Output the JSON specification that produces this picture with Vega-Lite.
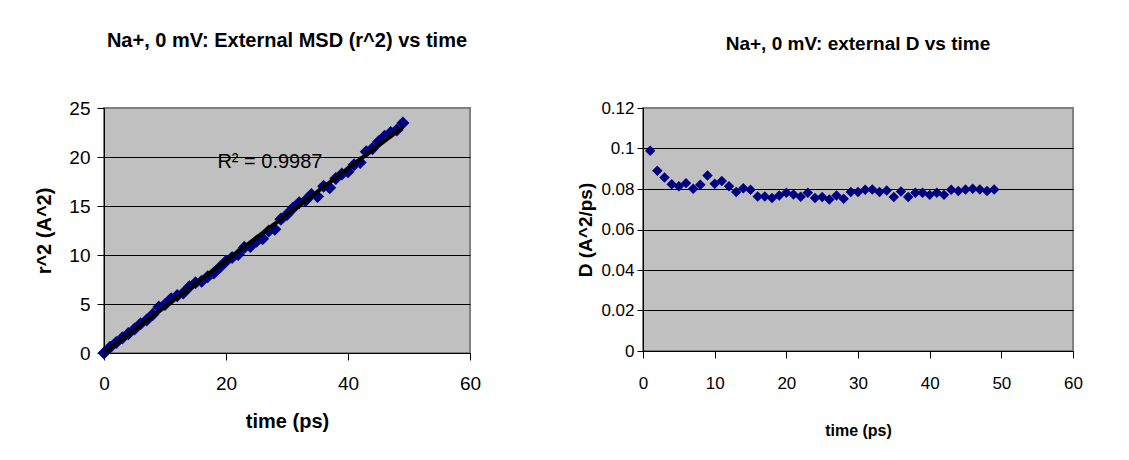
{
  "$schema": "https://vega.github.io/schema/vega-lite/v6.json",
  "background": "white",
  "padding": {"left": 33, "top": 30, "right": 5, "bottom": 5},
  "spacing": 93,
  "config": {
    "font": "Liberation Sans",
    "view": {"fill": "#c0c0c0", "stroke": "#808080", "strokeWidth": 2},
    "axis": {"domainColor": "black", "tickColor": "black", "labelColor": "black", "titleColor": "black", "labelFlush": false, "titleFontWeight": "bold", "domainWidth": 1, "tickWidth": 1}
  },
  "datasets": {
    "msd": [
      {"t": 0, "r2": 0}, {"t": 1, "r2": 0.593}, {"t": 2, "r2": 1.068}, {"t": 3, "r2": 1.543}, {"t": 4, "r2": 1.978},
      {"t": 5, "r2": 2.442}, {"t": 6, "r2": 2.985}, {"t": 7, "r2": 3.364}, {"t": 8, "r2": 3.941}, {"t": 9, "r2": 4.682},
      {"t": 10, "r2": 4.956}, {"t": 11, "r2": 5.537}, {"t": 12, "r2": 5.854}, {"t": 13, "r2": 6.123}, {"t": 14, "r2": 6.754},
      {"t": 15, "r2": 7.164}, {"t": 16, "r2": 7.325}, {"t": 17, "r2": 7.783}, {"t": 18, "r2": 8.154}, {"t": 19, "r2": 8.755},
      {"t": 20, "r2": 9.372}, {"t": 21, "r2": 9.74}, {"t": 22, "r2": 10.058}, {"t": 23, "r2": 10.778}, {"t": 24, "r2": 10.872},
      {"t": 25, "r2": 11.4}, {"t": 26, "r2": 11.669}, {"t": 27, "r2": 12.442}, {"t": 28, "r2": 12.634}, {"t": 29, "r2": 13.659},
      {"t": 30, "r2": 14.13}, {"t": 31, "r2": 14.806}, {"t": 32, "r2": 15.322}, {"t": 33, "r2": 15.543}, {"t": 34, "r2": 16.177},
      {"t": 35, "r2": 15.96}, {"t": 36, "r2": 17.021}, {"t": 37, "r2": 16.872}, {"t": 38, "r2": 17.807}, {"t": 39, "r2": 18.275},
      {"t": 40, "r2": 18.504}, {"t": 41, "r2": 19.212}, {"t": 42, "r2": 19.429}, {"t": 43, "r2": 20.537}, {"t": 44, "r2": 20.856},
      {"t": 45, "r2": 21.546}, {"t": 46, "r2": 22.108}, {"t": 47, "r2": 22.504}, {"t": 48, "r2": 22.752}, {"t": 49, "r2": 23.461}
    ],
    "diff": [
      {"t": 1, "D": 0.0989}, {"t": 2, "D": 0.089}, {"t": 3, "D": 0.0857}, {"t": 4, "D": 0.0824}, {"t": 5, "D": 0.0814},
      {"t": 6, "D": 0.0829}, {"t": 7, "D": 0.0801}, {"t": 8, "D": 0.0821}, {"t": 9, "D": 0.0867}, {"t": 10, "D": 0.0826},
      {"t": 11, "D": 0.0839}, {"t": 12, "D": 0.0813}, {"t": 13, "D": 0.0785}, {"t": 14, "D": 0.0804}, {"t": 15, "D": 0.0796},
      {"t": 16, "D": 0.0763}, {"t": 17, "D": 0.0763}, {"t": 18, "D": 0.0755}, {"t": 19, "D": 0.0768}, {"t": 20, "D": 0.0781},
      {"t": 21, "D": 0.0773}, {"t": 22, "D": 0.0762}, {"t": 23, "D": 0.0781}, {"t": 24, "D": 0.0755}, {"t": 25, "D": 0.076},
      {"t": 26, "D": 0.0748}, {"t": 27, "D": 0.0768}, {"t": 28, "D": 0.0752}, {"t": 29, "D": 0.0785}, {"t": 30, "D": 0.0785},
      {"t": 31, "D": 0.0796}, {"t": 32, "D": 0.0798}, {"t": 33, "D": 0.0785}, {"t": 34, "D": 0.0793}, {"t": 35, "D": 0.076},
      {"t": 36, "D": 0.0788}, {"t": 37, "D": 0.076}, {"t": 38, "D": 0.0781}, {"t": 39, "D": 0.0781}, {"t": 40, "D": 0.0771},
      {"t": 41, "D": 0.0781}, {"t": 42, "D": 0.0771}, {"t": 43, "D": 0.0796}, {"t": 44, "D": 0.079}, {"t": 45, "D": 0.0798},
      {"t": 46, "D": 0.0801}, {"t": 47, "D": 0.0798}, {"t": 48, "D": 0.079}, {"t": 49, "D": 0.0798}
    ],
    "note": [{"t": 27.2, "r2": 19.5, "label": "R² = 0.9987"}]
  },
  "hconcat": [
    {
      "width": 366,
      "height": 245,
      "title": {"text": "Na+, 0 mV:  External MSD (r^2) vs time", "fontSize": 20, "fontWeight": "bold", "offset": 48, "anchor": "middle", "color": "black"},
      "layer": [
        {
          "data": {"name": "msd"},
          "mark": {"type": "point", "shape": "diamond", "filled": true, "color": "#000080", "size": 170, "opacity": 1},
          "encoding": {
            "x": {"field": "t", "type": "quantitative", "scale": {"domain": [0, 60], "nice": false},
              "axis": {"values": [0, 20, 40, 60], "title": "time (ps)", "titleFontSize": 20, "labelFontSize": 19, "tickSize": 7, "labelPadding": 14, "titlePadding": 18, "grid": false}},
            "y": {"field": "r2", "type": "quantitative", "scale": {"domain": [0, 25], "nice": false},
              "axis": {"values": [0, 5, 10, 15, 20, 25], "title": "r^2 (A^2)", "titleFontSize": 20, "labelFontSize": 19, "tickSize": 7, "labelPadding": 7, "titlePadding": 14, "grid": true, "gridWidth": 1,
                "gridColor": {"condition": {"test": "datum.value >= 25", "value": "#808080"}, "value": "black"}}}
          }
        },
        {
          "data": {"name": "msd"},
          "transform": [{"regression": "r2", "on": "t", "extent": [0, 49]}],
          "mark": {"type": "line", "color": "black", "strokeWidth": 4},
          "encoding": {
            "x": {"field": "t", "type": "quantitative"},
            "y": {"field": "r2", "type": "quantitative"}
          }
        },
        {
          "data": {"name": "note"},
          "mark": {"type": "text", "fontSize": 20, "color": "black", "align": "center", "baseline": "middle"},
          "encoding": {
            "x": {"field": "t", "type": "quantitative"},
            "y": {"field": "r2", "type": "quantitative"},
            "text": {"field": "label"}
          }
        }
      ]
    },
    {
      "width": 430,
      "height": 243,
      "title": {"text": "Na+, 0 mV: external D vs time", "fontSize": 19, "fontWeight": "bold", "offset": 45, "anchor": "middle", "color": "black"},
      "data": {"name": "diff"},
      "mark": {"type": "point", "shape": "diamond", "filled": true, "color": "#000080", "size": 110, "opacity": 1},
      "encoding": {
        "x": {"field": "t", "type": "quantitative", "scale": {"domain": [0, 60], "nice": false},
          "axis": {"values": [0, 10, 20, 30, 40, 50, 60], "title": "time (ps)", "titleFontSize": 16, "labelFontSize": 17, "tickSize": 7, "labelPadding": 17, "titlePadding": 31, "grid": false}},
        "y": {"field": "D", "type": "quantitative", "scale": {"domain": [0, 0.12], "nice": false},
          "axis": {"values": [0, 0.02, 0.04, 0.06, 0.08, 0.1, 0.12], "format": ".2~f", "title": "D (A^2/ps)", "titleFontSize": 19, "labelFontSize": 17, "tickSize": 6, "labelPadding": 3, "titlePadding": 5, "grid": true, "gridWidth": 1,
            "gridColor": {"condition": {"test": "datum.value >= 0.12", "value": "#808080"}, "value": "black"}}}
      }
    }
  ]
}
